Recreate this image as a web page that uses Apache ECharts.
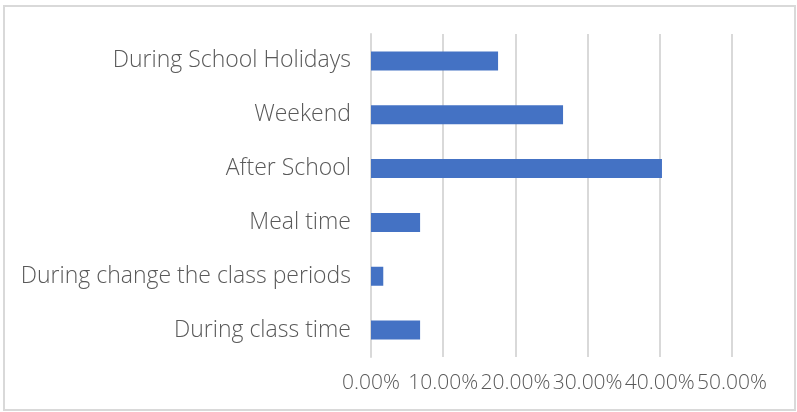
<!DOCTYPE html>
<html>
<head>
<meta charset="utf-8">
<title>ECharts</title>
<script src="https://cdn.jsdelivr.net/npm/echarts@6/dist/echarts.min.js"></script>
<style>
body { margin: 0; background: #fff; }
#frame { position: absolute; left: 3px; top: 5px; width: 789px; height: 402px; border: 2px solid #d9d9d9; }
#main { position: absolute; left: 0; top: 0; width: 797px; height: 412px; }
</style>
</head>
<body>
	<div id="frame"></div>
	<div id="main"></div>
	<script type="text/javascript">
		var categories = ['During class time', 'During change the class periods', 'Meal time', 'After School', 'Weekend', 'During School Holidays'];
		var values = [6.8, 1.7, 6.8, 40.3, 26.6, 17.6];
		var myChart = echarts.init(document.getElementById('main'));
		var font = '"Open Sans", "Noto Sans", sans-serif';

		var option = {
			animation: false,
			grid: { left: 371, right: 65, top: 34, bottom: 55 },
			xAxis: {
				type: 'value',
				min: 0,
				max: 50,
				interval: 10,
				axisLine: { show: false },
				axisTick: { show: false },
				splitLine: { lineStyle: { color: '#d9d9d9', width: 2 } },
				axisLabel: {
					margin: 16,
					color: '#595959',
					fontSize: 21,
					fontWeight: 300,
					fontFamily: font,
					formatter: function (v) { return v.toFixed(2) + '%'; }
				}
			},
			yAxis: {
				type: 'category',
				data: categories,
				axisLine: { show: true, lineStyle: { color: '#d9d9d9', width: 2 } },
				axisTick: { show: false },
				axisLabel: {
					margin: 20,
					color: '#595959',
					fontSize: 23,
					fontWeight: 300,
					fontFamily: font
				}
			},
			series: [{
				type: 'bar',
				data: values,
				barWidth: 19,
				itemStyle: { color: '#4472c4' }
			}]
		};

		myChart.setOption(option);
	</script>
</body>
</html>
